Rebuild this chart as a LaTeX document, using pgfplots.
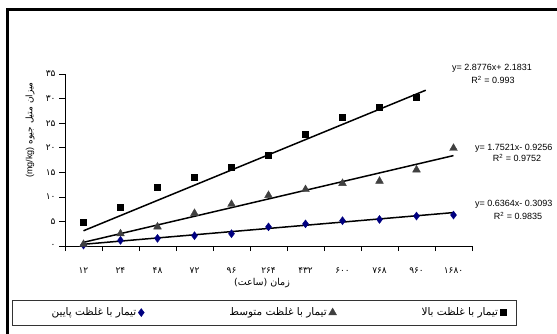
\documentclass[border=0pt]{standalone}
\usepackage{fontspec}
\usepackage{pgfplots}
\pgfplotsset{compat=1.18}
\setmainfont{Liberation Sans}
\newfontfamily\arabicfont[Script=Arabic]{DejaVu Sans}
\TeXXeTstate=1
\definecolor{navyd}{RGB}{0,0,128}
\definecolor{trig}{RGB}{64,64,64}
\begin{document}
\begin{tikzpicture}[x=1pt,y=1pt]
\begin{axis}[
  at={(65pt,87pt)}, anchor=south west,
  scale only axis, width=407pt, height=172pt,
  xmin=0.5, xmax=11.5, ymin=0, ymax=35,
  axis lines=left, axis line style={-, black, line width=0.6pt},
  clip=false,
  xtick={1,...,11},
  xticklabels={{۱۲},{۲۴},{۴۸},{۷۲},{۹۶},{۲۶۴},{۴۳۲},{۶۰۰},{۷۶۸},{۹۶۰},{۱۶۸۰}},
  minor xtick={0.5,1.5,...,11.5},
  ytick={0,5,...,35},
  yticklabels={{۰},{۵},{۱۰},{۱۵},{۲۰},{۲۵},{۳۰},{۳۵}},
  tick align=outside,
  major tick length=6pt, minor tick length=5pt,
  x tick style={draw=none},
  minor x tick style={draw=black, line width=0.6pt},
  y tick style={black, line width=0.6pt},
  xticklabel style={font=\arabicfont\fontsize{9}{10}\selectfont, yshift=-12pt},
  yticklabel style={font=\arabicfont\fontsize{9}{10}\selectfont},
  xlabel={\arabicfont\beginR زمان (ساعت)\endR},
  xlabel style={font=\fontsize{9.5}{10}\selectfont, at={(axis description cs:0.484,-0.215)}, anchor=center},
  ylabel={\arabicfont\beginR میزان متیل جیوه \beginL{\rmfamily(mg/kg)}\endL\endR},
  ylabel style={font=\fontsize{9}{10}\selectfont, at={(axis description cs:-0.086,0.674)}, anchor=center},
  legend columns=3,
  legend plot pos=right,
  legend style={draw=none, fill=none, at={(axis description cs:0.523,-0.387)}, anchor=center,
    font=\arabicfont\fontsize{10.5}{11}\selectfont,
    /tikz/every even column/.append style={column sep=83pt}},
]
\addplot[only marks, mark=diamond*, mark size=4pt, color=navyd] coordinates {
(1,0.2)(2,1.15)(3,1.55)(4,2.1)(5,2.5)(6,3.9)(7,4.5)(8,5.15)(9,5.4)(10,6.1)(11,6.3)};
\addlegendentry{\beginR تیمار با غلظت پایین\endR}
\addplot[only marks, mark=triangle*, mark size=4.5pt, color=trig] coordinates {
(1,0.35)(2,2.5)(3,3.9)(4,6.65)(5,8.5)(6,10.3)(7,11.5)(8,12.75)(9,13.2)(10,15.5)(11,19.9)};
\addlegendentry{\beginR تیمار با غلظت متوسط\endR}
\addplot[only marks, mark=square*, mark size=3pt, color=black] coordinates {
(1,4.8)(2,7.8)(3,11.9)(4,14.0)(5,16.0)(6,18.5)(7,22.8)(8,26.2)(9,28.3)(10,30.3)};
\addlegendentry{\beginR تیمار با غلظت بالا\endR}
\addplot[black, line width=1.5pt, forget plot] coordinates {(1,3.1)(10.25,31.7)};
\addplot[black, line width=1.5pt, forget plot] coordinates {(1,0.75)(11,18.4)};
\addplot[black, line width=1.5pt, forget plot] coordinates {(1,0.35)(11,6.8)};
\end{axis}
\draw[line width=2.7pt] (7.3,-20) rectangle (580,323.7);
\draw[line width=0.6pt, black!80] (12,8) rectangle (516,33);
\begin{scope}[every node/.style={font=\fontsize{9}{10}\selectfont, inner sep=0pt}]
\node at (492,265) {y= 2.8776x+ 2.1831};
\node at (493,253) {R\textsuperscript{2} = 0.993};
\node[anchor=west] at (475,185) {y= 1.7521x- 0.9256};
\node at (517,175) {R\textsuperscript{2} = 0.9752};
\node[anchor=west] at (475,129) {y= 0.6364x- 0.3093};
\node at (518,117) {R\textsuperscript{2} = 0.9835};
\end{scope}
\pgfresetboundingbox
\path[use as bounding box] (0,0) rectangle (557,333);
\end{tikzpicture}
\end{document}
